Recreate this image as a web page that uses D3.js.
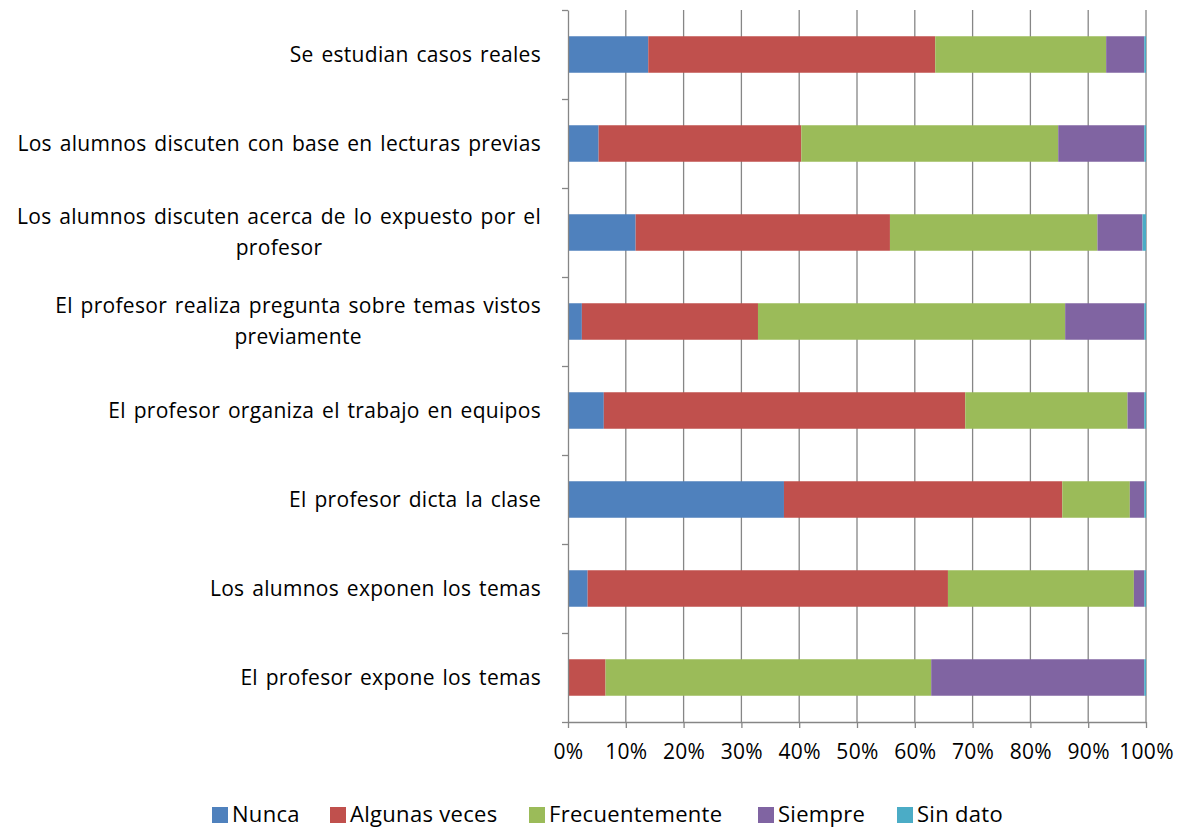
<!DOCTYPE html>
<html>
<head>
<meta charset="utf-8">
<script src="https://cdn.jsdelivr.net/npm/d3@7"></script>
<style>
  html, body { margin: 0; padding: 0; background: #fff; }
  svg { display: block; }
  text { font-family: "Open Sans", "Liberation Sans", sans-serif; fill: #000; letter-spacing: 0.3px; }
</style>
</head>
<body>
<svg id="chart" width="1178" height="827"></svg>
<script>
const categories = [
  "Se estudian casos reales",
  "Los alumnos discuten con base en lecturas previas",
  "Los alumnos discuten acerca de lo expuesto por el profesor",
  "El profesor realiza pregunta sobre temas vistos previamente",
  "El profesor organiza el trabajo en equipos",
  "El profesor dicta la clase",
  "Los alumnos exponen los temas",
  "El profesor expone los temas"
];
const seriesNames = ["Nunca", "Algunas veces", "Frecuentemente", "Siempre", "Sin dato"];
const nunca          = [13.9,  5.3, 11.7,  2.4,  6.2, 37.4,  3.4,  0.0];
const algunasVeces   = [49.7, 35.1, 44.0, 30.5, 62.6, 48.2, 62.4,  6.5];
const frecuentemente = [29.6, 44.5, 35.9, 53.2, 28.1, 11.7, 32.2, 56.4];
const siempre        = [ 6.6, 14.9,  7.8, 13.7,  2.9,  2.5,  1.8, 36.9];
const sinDato        = [ 0.3,  0.3,  0.6,  0.3,  0.3,  0.3,  0.3,  0.3];
const xTicks = [0, 0.1, 0.2, 0.3, 0.4, 0.5, 0.6, 0.7, 0.8, 0.9, 1.0];
const colors = ["#4F81BD", "#C0504D", "#9BBB59", "#8064A2", "#4BACC6"];

const seriesValues = [nunca, algunasVeces, frecuentemente, siempre, sinDato];
const rows = categories.map((c, i) => {
  const r = { category: c };
  const total = seriesValues.reduce((s, arr) => s + arr[i], 0);
  seriesNames.forEach((n, k) => { r[n] = seriesValues[k][i] / total; });
  return r;
});

const svg = d3.select("#chart");
const pLeft = 568, pRight = 1146, pTop = 10, pBottom = 722;
const FS = 21;

const x = d3.scaleLinear().domain([0, 1]).range([pLeft, pRight]);
const y = d3.scaleBand().domain(categories).range([pTop, pBottom])
  .paddingInner(0.59).paddingOuter(0.295);
const color = d3.scaleOrdinal().domain(seriesNames).range(colors);

// gridlines
svg.append("g").selectAll("line").data(xTicks.filter(t => t > 0)).join("line")
  .attr("x1", d => x(d)).attr("x2", d => x(d))
  .attr("y1", pTop).attr("y2", pBottom)
  .attr("stroke", "#868686").attr("stroke-width", 1.3);

// bars
const stack = d3.stack().keys(seriesNames)(rows);
svg.append("g").selectAll("g").data(stack).join("g")
  .attr("fill", d => color(d.key))
  .selectAll("rect").data(d => d).join("rect")
  .attr("x", d => x(d[0]))
  .attr("width", d => Math.max(0, x(d[1]) - x(d[0])))
  .attr("y", d => y(d.data.category))
  .attr("height", y.bandwidth());

// left axis (category boundaries)
const yb = d3.scaleLinear().domain([0, categories.length]).range([pTop, pBottom]);
const gl = svg.append("g").attr("transform", `translate(${pLeft},0)`)
  .call(d3.axisLeft(yb).ticks(categories.length).tickSize(6).tickSizeOuter(0).tickFormat(""));
gl.select(".domain").attr("stroke", "#868686").attr("stroke-width", 1.3);
gl.selectAll(".tick line").attr("stroke", "#868686").attr("stroke-width", 1.3);

// bottom axis
const gb = svg.append("g").attr("transform", `translate(0,${pBottom})`)
  .call(d3.axisBottom(x).tickValues(xTicks).tickSize(6).tickSizeOuter(0).tickFormat(d3.format(".0%")));
gb.select(".domain").attr("stroke", "#868686").attr("stroke-width", 1.3);
gb.selectAll(".tick line").attr("stroke", "#868686").attr("stroke-width", 1.3);
gb.selectAll(".tick text").attr("y", 30).attr("dy", "0.32em")
  .style("font-size", FS + "px").style("font-family", "'Open Sans', 'Liberation Sans', sans-serif").attr("fill", "#000");

// category labels with wrapping
const labelX = 541, maxW = 548, lineH = 31;
const lg = svg.append("g").style("font-size", FS + "px").style("word-spacing", "2px");
categories.forEach(c => {
  const words = c.split(" ");
  const probe = lg.append("text").attr("visibility", "hidden");
  const lines = [];
  let cur = [];
  words.forEach(w => {
    const test = cur.concat([w]).join(" ");
    probe.text(test);
    if (probe.node().getComputedTextLength() > maxW && cur.length) {
      lines.push(cur.join(" "));
      cur = [w];
    } else cur.push(w);
  });
  lines.push(cur.join(" "));
  const widths = lines.map(l => { probe.text(l); return probe.node().getComputedTextLength(); });
  probe.remove();
  const maxLine = d3.max(widths);
  const cy = y(c) + y.bandwidth() / 2;
  const cx = labelX - maxLine / 2;
  const t = lg.append("text").attr("text-anchor", lines.length > 1 ? "middle" : "end");
  lines.forEach((l, i) => {
    t.append("tspan")
      .attr("x", lines.length > 1 ? cx : labelX)
      .attr("y", cy + (i - (lines.length - 1) / 2) * lineH)
      .attr("dy", "0.35em")
      .text(l);
  });
});

// legend
const legendX = [212, 330, 529, 758, 897];
const lgd = svg.append("g");
seriesNames.forEach((n, i) => {
  const g = lgd.append("g").attr("transform", `translate(${legendX[i]},815)`);
  g.append("rect").attr("x", 0).attr("y", -8).attr("width", 16).attr("height", 16).attr("fill", colors[i]);
  g.append("text").attr("x", 20).attr("y", -1).attr("dy", "0.35em").style("font-size", "22px").text(n);
});
</script>
</body>
</html>
